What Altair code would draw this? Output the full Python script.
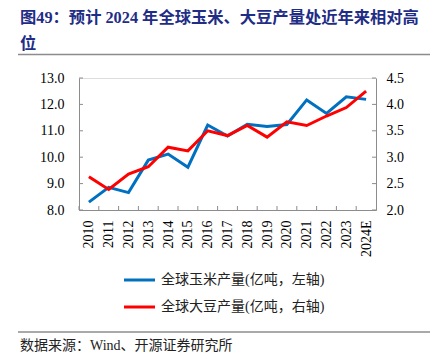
import altair as alt
import pandas as pd

years = ["2010", "2011", "2012", "2013", "2014", "2015", "2016", "2017",
         "2018", "2019", "2020", "2021", "2022", "2023", "2024E"]
corn = [8.30, 8.86, 8.66, 9.89, 10.12, 9.62, 11.22, 10.80, 11.25, 11.16,
        11.24, 12.17, 11.66, 12.29, 12.19]
soy = [2.63, 2.39, 2.68, 2.82, 3.19, 3.12, 3.50, 3.41, 3.60, 3.38,
       3.67, 3.60, 3.78, 3.94, 4.25]
corn_label = "全球玉米产量(亿吨，左轴)"
soy_label = "全球大豆产量(亿吨，右轴)"
left_ticks = [8, 9, 10, 11, 12, 13]
right_ticks = [2.0, 2.5, 3.0, 3.5, 4.0, 4.5]
title1 = "图49：预计 2024 年全球玉米、大豆产量处近年来相对高"
title2 = "位"
source = "数据来源：Wind、开源证券研究所"

W, H = 297, 132
FONT = "Liberation Serif, Times New Roman, Noto Sans CJK SC"
CJK = "Liberation Serif, Noto Sans CJK SC"
AXIS_GRAY = "#8c8c8c"

corn_df = pd.DataFrame({"year": years, "value": corn, "series": corn_label})
soy_df = pd.DataFrame({"year": years, "value": soy, "series": soy_label})
lt_df = pd.DataFrame({"value": left_ticks})
rt_df = pd.DataFrame({"value": right_ticks})
yr_df = pd.DataFrame({"year": years})
one = pd.DataFrame({"k": [0]})

xscale = alt.Scale(type="point", domain=years, padding=0.5)
xaxis = alt.Axis(title=None, labelAngle=-90, labelAlign="right",
                 labelBaseline="middle", labelPadding=10, labelOverlap=False,
                 ticks=False, tickSize=0, domainColor=AXIS_GRAY,
                 labelFont=FONT, labelFontSize=14, labelColor="#000")
xenc = alt.X("year:O", scale=xscale, sort=years, axis=xaxis)

left_axis = alt.Axis(title=None, values=left_ticks, format=".1f",
                     orient="left", ticks=False, tickSize=0, labelPadding=15,
                     labelOverlap=False, grid=False, domainColor=AXIS_GRAY,
                     labelFont=FONT, labelFontSize=14, labelColor="#000")
right_axis = alt.Axis(title=None, values=right_ticks, format=".1f",
                      orient="right", ticks=False, tickSize=0, labelPadding=10,
                      labelOverlap=False, grid=False, domainColor=AXIS_GRAY,
                      labelFont=FONT, labelFontSize=14, labelColor="#000")
left_scale = alt.Scale(domain=[8, 13], nice=False, zero=False)
right_scale = alt.Scale(domain=[2, 4.5], nice=False, zero=False)

color_scale = alt.Scale(domain=[corn_label, soy_label], range=["#0070C0", "#FF0000"])

corn_line = alt.Chart(corn_df).mark_line(strokeWidth=3).encode(
    x=xenc,
    y=alt.Y("value:Q", scale=left_scale, axis=left_axis),
    color=alt.Color("series:N", scale=color_scale, legend=None),
)
corn_ticks = alt.Chart(lt_df).mark_rule(color=AXIS_GRAY, strokeWidth=1).encode(
    y=alt.Y("value:Q", scale=left_scale, axis=left_axis),
    x=alt.value(0), x2=alt.value(4))
left = alt.layer(corn_ticks, corn_line)

soy_line = alt.Chart(soy_df).mark_line(strokeWidth=3).encode(
    x=xenc,
    y=alt.Y("value:Q", scale=right_scale, axis=right_axis),
    color=alt.Color("series:N", scale=color_scale, legend=None),
)
soy_ticks = alt.Chart(rt_df).mark_rule(color=AXIS_GRAY, strokeWidth=1).encode(
    y=alt.Y("value:Q", scale=right_scale, axis=right_axis),
    x=alt.value(W), x2=alt.value(W - 4))
right = alt.layer(soy_ticks, soy_line)

x_ticks = alt.Chart(yr_df).mark_rule(color=AXIS_GRAY, strokeWidth=1).encode(
    x=xenc,
    xOffset=alt.value(-W / 30),
    y=alt.value(H), y2=alt.value(H - 4))


def txt(text, x, y, size, color="#000", weight="normal", font=CJK):
    return alt.Chart(one).mark_text(align="left", baseline="middle", fontSize=size,
                                    fontWeight=weight, font=font, color=color).encode(
        x=alt.value(x), y=alt.value(y), text=alt.value(text))


def hrule(x1, x2, y, color, width):
    return alt.Chart(one).mark_rule(color=color, strokeWidth=width).encode(
        x=alt.value(x1), x2=alt.value(x2), y=alt.value(y))


deco = [
    txt(title1, -59, -60.5, 16.3, "#1F2D86", "bold"),
    txt(title2, -59, -34.5, 16.3, "#1F2D86", "bold"),
    hrule(-61, 351, -23.5, "#8c8c8c", 1.5),
    hrule(-61, 351, 254, "#8c8c8c", 1.5),
    txt(source, -59, 268, 14, "#222"),
    hrule(45, 76, 202, "#0070C0", 3),
    txt(corn_label, 82, 202, 14, "#222"),
    hrule(45, 76, 229, "#FF0000", 3),
    txt(soy_label, 82, 229, 14, "#222"),
]

chart = alt.layer(x_ticks, left, right, *deco).resolve_scale(
    y="independent"
).properties(
    width=W, height=H,
    autosize=alt.AutoSizeParams(type="none"),
    padding={"left": 71, "top": 70, "right": 56, "bottom": 144},
).configure_view(stroke=None).configure(background="white")

chart.save("out.html", embed_options={"renderer": "svg", "actions": False})
